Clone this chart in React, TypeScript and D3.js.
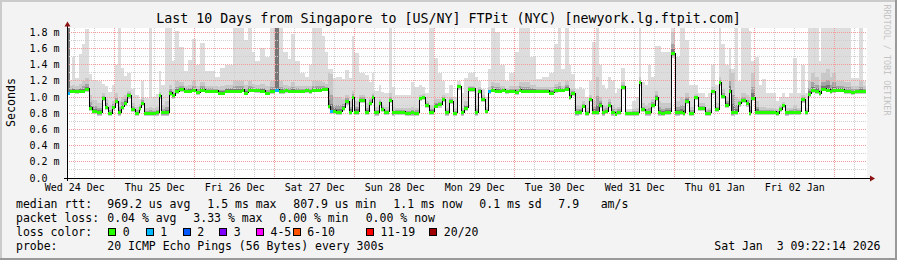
import React from "react";
import * as d3 from "d3";

// ---------- data ----------
const START = new Date(2025, 11, 24, 9, 40);
const SPAN_HOURS = 240;
const DATA_END_HOUR = 239.7;

// start of each consolidated step, hours after START
const segHour = [
  0, 0.9, 1.5, 2.4, 3.6, 4.5, 5.4, 6.6, 7.5, 9,
  10.5, 11.4, 12.3, 13.5, 14.4, 15.3, 16.2, 17.1, 18, 19.2,
  20.4, 21.6, 22.2, 23.1, 24.6, 25.5, 26.7, 27.6, 28.2, 29.4,
  30.6, 31.5, 32.4, 33.6, 35.1, 36.3, 37.5, 38.7, 39.9, 41.4,
  44.4, 45.3, 45.9, 47.4, 49.8, 52.5, 53.1, 54.3, 55.5, 56.4,
  57.9, 59.4, 60.9, 62.4, 63.6, 64.8, 65.4, 66.3, 67.2, 68.4,
  69.9, 71.4, 72.6, 73.5, 75, 76.5, 77.4, 78.3, 78.9, 79.8,
  80.7, 82.5, 83.4, 84.6, 85.5, 86.1, 87.6, 89.4, 90.6, 91.5,
  92.1, 93.6, 94.2, 95.1, 96.6, 97.5, 98.4, 101.4, 103.2, 104.1,
  105.6, 106.5, 107.4, 108.6, 110.1, 111.3, 112.5, 113.4, 114.6, 115.8,
  117, 118.2, 119.1, 120.3, 122.4, 123.3, 124.2, 125.4, 126.3, 127.2,
  128.4, 129.9, 130.5, 131.4, 132.6, 134.4, 135.6, 136.2, 138.9, 140.7,
  142.5, 144.6, 146.1, 147.3, 148.2, 149.4, 150.6, 151.2, 152.4, 153.6,
  154.5, 155.4, 156.6, 157.5, 158.7, 159.6, 160.5, 161.4, 162.3, 163.2,
  164.4, 165, 166.2, 167.4, 169.5, 170.7, 171.6, 172.2, 173.4, 174.3,
  175.2, 176.4, 177.3, 178.2, 179.4, 181.2, 182.4, 183.9, 184.8, 185.4,
  186.6, 188.1, 189.3, 191.4, 192.3, 193.2, 194.4, 195.6, 196.2, 197.4,
  198.6, 199.2, 200.4, 201.3, 202.2, 203.7, 204.6, 205.2, 206.4, 207.6,
  208.5, 209.7, 212.7, 213.6, 214.5, 215.4, 216.6, 217.8, 219, 220.2,
  221.4, 222.3, 223.2, 224.4, 225.6, 226.2, 227.7, 228.9, 229.5, 230.7,
  233.1, 235.2, 236.4, 237.6, 238.8,
];

// median rtt (ms)
const median = [
  1.05, 1.08, 1.08, 1.07, 1.08, 1.08, 1.10, 0.87, 0.825, 0.81,
  0.99, 0.876, 0.80, 0.876, 0.945, 0.81, 0.88, 0.93, 1.02, 0.847,
  0.806, 0.87, 0.925, 0.806, 0.806, 0.806, 0.81, 1.02, 0.81, 0.81,
  1.05, 1.02, 1.07, 1.10, 1.08, 1.08, 1.09, 1.06, 1.09, 1.08,
  1.08, 1.055, 1.055, 1.08, 1.08, 1.09, 1.05, 1.09, 1.09, 1.085,
  1.08, 1.05, 1.07, 1.09, 1.07, 1.07, 1.085, 1.08, 1.08, 1.08,
  1.08, 1.085, 1.07, 1.09, 1.09, 1.10, 1.10, 0.885, 0.826, 0.83,
  0.82, 0.87, 0.945, 0.82, 1.0, 0.82, 0.966, 0.82, 0.93, 1.0,
  0.81, 0.93, 0.85, 0.815, 0.96, 0.81, 0.815, 0.80, 0.81, 0.806,
  0.985, 1.0, 0.9, 0.82, 0.895, 0.91, 0.975, 0.81, 0.95, 0.806,
  1.13, 0.81, 0.87, 1.10, 0.81, 1.08, 0.975, 0.83, 1.07, 1.09,
  1.08, 1.08, 1.09, 1.07, 1.08, 1.065, 1.09, 1.08, 1.08, 1.08,
  1.08, 1.055, 1.085, 1.09, 1.09, 1.10, 1.0, 1.045, 0.81, 0.82,
  0.895, 0.806, 0.975, 0.82, 0.82, 0.9, 0.81, 0.825, 0.9, 0.81,
  0.795, 0.82, 1.127, 0.806, 0.806, 0.806, 1.185, 0.85, 0.81, 0.81,
  0.9, 0.99, 0.81, 0.806, 0.82, 1.54, 0.81, 0.82, 0.806, 0.95,
  0.806, 1.0, 0.87, 0.80, 0.806, 1.07, 0.85, 1.18, 1.01, 0.9,
  1.08, 0.81, 0.82, 0.92, 0.96, 0.92, 0.806, 0.99, 0.82, 0.815,
  0.815, 0.815, 0.80, 0.85, 0.9, 0.81, 0.815, 0.815, 0.815, 0.97,
  0.815, 1.04, 1.085, 1.07, 1.045, 1.10, 1.09, 1.07, 1.085, 1.09,
  1.07, 1.06, 1.075, 1.07, 1.07,
];

// slowest ping of each step (ms)
const hi = [
  3.0, 1.21, 1.50, 1.23, 1.53, 1.66, 1.84, 1.28, 1.21, 1.20,
  1.16, 1.14, 1.06, 1.15, 1.39, 1.89, 1.36, 1.26, 1.30, 1.10,
  1.03, 0.98, 1.20, 0.99, 1.89, 1.0, 1.04, 1.32, 1.15, 1.89,
  1.89, 1.45, 1.82, 1.62, 1.32, 1.46, 1.72, 1.40, 1.67, 1.32,
  1.25, 1.25, 1.36, 1.39, 1.89, 1.89, 1.70, 1.89, 1.55, 1.45,
  1.60, 1.50, 1.89, 3.0, 1.89, 1.56, 1.56, 1.47, 1.78, 1.45,
  1.30, 1.25, 1.40, 1.89, 1.89, 1.75, 1.55, 1.35, 1.35, 1.23,
  1.25, 1.22, 1.33, 1.24, 1.75, 1.54, 1.30, 1.27, 1.18, 1.30,
  1.07, 1.15, 1.06, 1.05, 1.89, 1.12, 1.03, 1.03, 1.18, 1.12,
  1.15, 1.12, 1.05, 1.89, 1.48, 1.30, 1.20, 1.05, 1.15, 1.0,
  1.20, 1.05, 1.23, 1.30, 1.25, 1.20, 1.10, 1.0, 1.34, 1.89,
  1.80, 1.40, 1.40, 1.20, 1.30, 1.55, 1.89, 1.89, 1.50, 1.22,
  1.25, 1.30, 1.65, 1.89, 1.35, 1.89, 1.40, 1.28, 1.10, 1.12,
  1.10, 1.0, 1.20, 1.68, 1.89, 1.40, 1.15, 1.10, 1.25, 1.20,
  1.05, 1.10, 1.36, 0.85, 0.95, 1.0, 1.85, 1.18, 1.15, 1.40,
  1.25, 1.63, 1.63, 1.55, 1.55, 1.89, 1.50, 1.89, 1.89, 1.70,
  1.15, 1.15, 1.05, 1.0, 1.05, 1.40, 1.15, 1.89, 1.65, 1.40,
  1.60, 1.35, 1.89, 1.20, 1.89, 1.85, 1.81, 1.45, 1.50, 1.15,
  1.22, 1.05, 0.95, 1.0, 1.05, 1.0, 1.05, 1.48, 1.05, 1.40,
  1.05, 1.89, 1.89, 1.89, 1.45, 1.89, 1.89, 1.89, 1.89, 1.89,
  1.89, 1.23, 1.23, 1.89, 1.20,
];

// upper bulk of the pings (ms)
const p90 = [
  10, 1.13, 1.15, 1.13, 1.16, 1.2, 1.24, 1.02, 0.96, 0.93,
  1.05, 0.98, 0.9, 0.95, 1.05, 0.95, 1.0, 1.02, 1.08, 0.93,
  0.88, 0.91, 1.0, 0.86, 0.88, 0.86, 0.88, 1.06, 0.9, 0.95,
  1.15, 1.1, 1.2, 1.18, 1.14, 1.15, 1.2, 1.14, 1.18, 1.14,
  1.13, 1.12, 1.13, 1.15, 1.2, 1.2, 1.15, 1.2, 1.16, 1.15,
  1.16, 1.13, 1.2, 10, 1.2, 1.15, 1.15, 1.14, 1.18, 1.14,
  1.13, 1.13, 1.13, 1.2, 1.2, 1.18, 1.16, 1.3, 1.28, 1.0,
  1.0, 0.97, 1.03, 0.95, 1.08, 0.95, 1.03, 0.93, 0.99, 1.05,
  0.88, 0.98, 0.9, 0.88, 1.05, 0.88, 0.87, 0.86, 0.88, 0.87,
  1.03, 1.04, 0.95, 0.9, 0.97, 0.97, 1.02, 0.87, 1.0, 0.86,
  1.16, 0.87, 0.95, 1.14, 0.9, 1.12, 1.02, 0.88, 1.12, 1.18,
  1.17, 1.14, 1.14, 1.11, 1.13, 1.14, 1.18, 1.18, 1.15, 1.12,
  1.12, 1.12, 1.16, 1.18, 1.14, 1.2, 1.1, 1.1, 0.9, 0.9,
  0.95, 0.86, 1.03, 0.95, 1.25, 1.0, 0.9, 0.9, 0.98, 0.9,
  0.86, 0.88, 1.18, 0.83, 0.85, 0.86, 1.25, 0.92, 0.9, 0.92,
  0.98, 1.08, 0.95, 0.92, 0.92, 1.8, 0.95, 1.0, 0.98, 1.05,
  0.88, 1.04, 0.92, 0.85, 0.87, 1.12, 0.92, 1.25, 1.1, 1.0,
  1.35, 1.3, 1.0, 0.98, 1.05, 1.02, 1.0, 1.3, 0.95, 0.88,
  0.88, 0.87, 0.85, 0.9, 0.94, 0.86, 0.87, 0.9, 0.87, 1.03,
  0.87, 1.2, 1.3, 1.25, 1.15, 1.3, 1.35, 1.25, 1.3, 1.2,
  1.18, 1.14, 1.14, 1.2, 1.13,
];

// fastest ping of each step (ms)
const lo = [
  1.02, 1.05, 1.05, 1.04, 1.05, 1.05, 1.06, 0.83, 0.79, 0.77,
  0.95, 0.84, 0.77, 0.84, 0.91, 0.77, 0.84, 0.89, 0.98, 0.81,
  0.77, 0.83, 0.89, 0.77, 0.77, 0.77, 0.77, 0.98, 0.77, 0.77,
  1.01, 0.98, 1.04, 1.06, 1.05, 1.05, 1.06, 1.03, 1.06, 1.05,
  1.05, 1.02, 1.02, 1.05, 1.05, 1.06, 1.02, 1.06, 1.06, 1.05,
  1.05, 1.02, 1.04, 1.06, 1.04, 1.04, 1.05, 1.05, 1.05, 1.05,
  1.05, 1.05, 1.04, 1.06, 1.06, 1.07, 1.07, 0.85, 0.79, 0.79,
  0.78, 0.83, 0.9, 0.78, 0.96, 0.78, 0.93, 0.78, 0.89, 0.96,
  0.77, 0.89, 0.81, 0.78, 0.92, 0.77, 0.78, 0.77, 0.77, 0.77,
  0.95, 0.96, 0.86, 0.78, 0.86, 0.87, 0.94, 0.77, 0.91, 0.77,
  1.09, 0.77, 0.83, 1.06, 0.77, 1.04, 0.94, 0.79, 1.04, 1.06,
  1.05, 1.05, 1.06, 1.04, 1.05, 1.03, 1.06, 1.05, 1.05, 1.05,
  1.05, 1.02, 1.05, 1.06, 1.06, 1.07, 0.96, 1.01, 0.77, 0.78,
  0.86, 0.77, 0.94, 0.78, 0.78, 0.86, 0.77, 0.79, 0.86, 0.77,
  0.76, 0.78, 1.09, 0.77, 0.77, 0.77, 1.14, 0.81, 0.77, 0.77,
  0.86, 0.95, 0.77, 0.77, 0.78, 1.48, 0.77, 0.78, 0.77, 0.91,
  0.77, 0.96, 0.83, 0.76, 0.77, 1.03, 0.81, 1.13, 0.97, 0.86,
  1.04, 0.77, 0.78, 0.88, 0.92, 0.88, 0.77, 0.95, 0.78, 0.78,
  0.78, 0.78, 0.76, 0.81, 0.86, 0.77, 0.78, 0.78, 0.78, 0.93,
  0.78, 1.0, 1.05, 1.04, 1.01, 1.07, 1.06, 1.04, 1.05, 1.06,
  1.04, 1.03, 1.04, 1.04, 1.04,
];

// steps that lost packets: start hour and lost count
const lossHour = [0, 62.4, 78.9, 126.3];
const lossCount = [1, 1, 1, 1];

const yTicks = [0, 0.2, 0.4, 0.6, 0.8, 1.0, 1.2, 1.4, 1.6, 1.8];
const yMinor = [0.1, 0.3, 0.5, 0.7, 0.9, 1.1, 1.3, 1.5, 1.7];

const lossLabels = ["0", "1", "2", "3", "4-5", "6-10", "11-19", "20/20"];
const lossColors = ["#26ff00", "#00b8ff", "#0059ff", "#7e00ff", "#ff00ff", "#ff5500", "#ff0000", "#a10000"];

const titleText = "Last 10 Days from Singapore to [US/NY] FTPit (NYC) [newyork.lg.ftpit.com]";
const rttStats = ["969.2 us avg", "1.5 ms max", "807.9 us min", "1.1 ms now", "0.1 ms sd", "7.9", "am/s"];
const lossStats = ["0.04 % avg", "3.33 % max", "0.00 % min", "0.00 % now"];
const probeText = "20 ICMP Echo Pings (56 Bytes) every 300s";
const stampText = "Sat Jan  3 09:22:14 2026";

// ---------- layout ----------
const W = 897, H = 260;
const PL = 67, PR = 867, PT = 28, PB = 178;
const rttX = [107.3, 207.3, 293.3, 393.3, 479.3, 558.3, 600.7];
const lossX = [107.3, 193.3, 279.3, 365.7];
const boxX = [108.3, 145.7, 182.7, 219.3, 256, 292.7, 366, 429.3];
const MONO = "'DejaVu Sans Mono', monospace";

const hourMs = 3600 * 1000;
const at = (h: number) => new Date(START.getTime() + h * hourMs);

export default function App() {
  const xs = d3.scaleTime().domain([START, at(SPAN_HOURS)]).range([PL, PR]);
  const ys = d3.scaleLinear().domain([0, 150 / 81]).range([PB, PT]);

  const segs = segHour.map((h, i) => {
    const h1 = i + 1 < segHour.length ? segHour[i + 1] : DATA_END_HOUR;
    const li = lossHour.indexOf(h);
    const loss = li >= 0 ? lossCount[li] : 0;
    return {
      x0: xs(at(h)),
      x1: xs(at(h1)),
      med: median[i],
      hi: hi[i],
      p90: p90[i],
      lo: lo[i],
      loss,
    };
  });

  const colorFor = (loss: number) => {
    if (loss <= 3) return lossColors[loss];
    if (loss <= 5) return lossColors[4];
    if (loss <= 10) return lossColors[5];
    if (loss <= 19) return lossColors[6];
    return lossColors[7];
  };

  const bandDefs = [
    { fill: "#dddddd", a: (s: any) => s.lo, b: (s: any) => s.hi },
    { fill: "#c8c8c8", a: (s: any) => s.lo, b: (s: any) => s.p90 },
    { fill: "#a4a4a4", a: (s: any) => s.med - (s.med - s.lo) * 0.66, b: (s: any) => s.med + (s.p90 - s.med) * 0.45 },
    { fill: "#777777", a: (s: any) => s.med - (s.med - s.lo) * 0.33, b: (s: any) => s.med + (s.p90 - s.med) * 0.2 },
  ];

  const linePts: [number, number][] = segs.map((s) => [s.x0, ys(s.med)]);
  linePts.push([segs[segs.length - 1].x1, ys(segs[segs.length - 1].med)]);
  const stepLine = d3.line().curve(d3.curveStepAfter)(linePts) || "";

  const hours6 = d3.timeHour.every(6)!.range(START, at(SPAN_HOURS));
  const vMinor = hours6.filter((d) => d.getHours() !== 0);
  const vMajor = hours6.filter((d) => d.getHours() === 0);
  const noons = d3.timeDay
    .range(d3.timeDay.floor(START), at(SPAN_HOURS))
    .map((d) => d3.timeHour.offset(d, 12))
    .filter((d) => d >= START && d <= at(SPAN_HOURS));
  const fmtDay = d3.timeFormat("%a %d %b");

  const px = (v: number) => Math.floor(v) + 0.5;
  const L = [207.7, 221.8, 235.9, 250];

  return (
    <svg width={W} height={H} style={{ position: "absolute", left: 0, top: 0, display: "block" }}
      fontFamily={MONO}>
      <defs>
        <clipPath id="plotclip">
          <rect x={PL} y={PT} width={PR - PL} height={PB - PT} />
        </clipPath>
      </defs>
      <rect x={0} y={0} width={W} height={H} fill="#f3f3f3" />
      <rect x={0} y={0} width={W} height={2} fill="#cbcbcb" />
      <rect x={0} y={0} width={2} height={H} fill="#cbcbcb" />
      <rect x={0} y={H - 2} width={W} height={2} fill="#999999" />
      <rect x={W - 2} y={0} width={2} height={H} fill="#999999" />

      <rect x={PL} y={PT} width={PR - PL} height={PB - PT} fill="#ffffff" />

      <g clipPath="url(#plotclip)" shapeRendering="crispEdges">
        {bandDefs.map((b, bi) => (
          <g key={bi} fill={b.fill}>
            {segs.map((s, i) => {
              const yTop = ys(b.b(s));
              const yBot = ys(b.a(s));
              return <rect key={i} x={s.x0} y={yTop} width={s.x1 - s.x0} height={Math.max(0, yBot - yTop)} />;
            })}
          </g>
        ))}
      </g>

      {/* grid */}
      <g strokeWidth={1} strokeDasharray="1,1" shapeRendering="crispEdges">
        {yMinor.map((v) => (
          <line key={"hm" + v} x1={PL} x2={PR} y1={px(ys(v))} y2={px(ys(v))} stroke="#cfcfcf" />
        ))}
        {vMinor.map((d, i) => (
          <line key={"vm" + i} x1={px(xs(d))} x2={px(xs(d))} y1={PT} y2={PB} stroke="#cfcfcf" />
        ))}
        {yTicks.filter((v) => v > 0).map((v) => (
          <line key={"hM" + v} x1={PL} x2={PR} y1={px(ys(v))} y2={px(ys(v))} stroke="#f49a9a" />
        ))}
        {vMajor.map((d, i) => (
          <line key={"vM" + i} x1={px(xs(d))} x2={px(xs(d))} y1={PT} y2={PB} stroke="#f49a9a" />
        ))}
      </g>

      {/* median */}
      <g clipPath="url(#plotclip)">
        <path d={stepLine} fill="none" stroke="#000" strokeWidth={1} shapeRendering="crispEdges" />
        {segs.map((s, i) => (
          <rect key={i} x={s.x0} y={Math.round(ys(s.med)) - 1.5} width={s.x1 - s.x0} height={3}
            fill={colorFor(s.loss)} shapeRendering="crispEdges" />
        ))}
      </g>

      {/* axes */}
      <g shapeRendering="crispEdges">
        <line x1={PL - 3} x2={PR + 3} y1={PB + 0.5} y2={PB + 0.5} stroke="#000" />
        <line x1={PL + 0.5} x2={PL + 0.5} y1={PB + 3} y2={PT - 3} stroke="#000" />
      </g>
      <path d={`M${PL + 0.5},21.5 L${PL - 2.5},26.5 L${PL + 3.5},26.5 Z`} fill="#8b1010" />
      <path d={`M${PR + 8},${PB + 0.5} L${PR + 3},${PB - 2.5} L${PR + 3},${PB + 3.5} Z`} fill="#8b1010" />

      {/* y labels */}
      <g fontSize={10} fill="#000" textAnchor="end">
        {yTicks.map((v) => (
          <text key={v} x={v === 0 ? 47.5 : 59.5} y={ys(v) + 3.6}>
            {v === 0 ? "0.0" : `${v.toFixed(1)} m`}
          </text>
        ))}
      </g>
      {/* x labels */}
      <g fontSize={10} fill="#000" textAnchor="middle">
        {noons.map((d, i) => (
          <text key={i} x={xs(d)} y={190.5}>{fmtDay(d)}</text>
        ))}
      </g>

      <text x={W / 2} y={23.3} fontSize={13.3} textAnchor="middle" fill="#000">{titleText}</text>
      <text transform="translate(14.5,102.5) rotate(-90)" fontSize={11.6} textAnchor="middle" fill="#000">Seconds</text>
      <text transform="translate(884,60) rotate(90)" fontSize={8.4} textAnchor="middle" fill="#c4c4c4">RRDTOOL / TOBI OETIKER</text>

      {/* legend */}
      <g fontSize={11.5} fill="#000">
        <text x={16} y={L[0]}>median rtt:</text>
        {rttStats.map((t, i) => (
          <text key={"r" + i} x={rttX[i]} y={L[0]}>{t}</text>
        ))}
        <text x={16} y={L[1]}>packet loss:</text>
        {lossStats.map((t, i) => (
          <text key={"l" + i} x={lossX[i]} y={L[1]}>{t}</text>
        ))}
        <text x={16} y={L[2]}>loss color:</text>
        {lossLabels.map((t, i) => (
          <g key={"c" + i}>
            <rect x={Math.round(boxX[i]) + 0.5} y={228.5} width={7} height={7} fill={lossColors[i]} stroke="#000" strokeWidth={1} />
            <text x={boxX[i] + 14.5} y={L[2]}>{t}</text>
          </g>
        ))}
        <text x={16} y={L[3]}>probe:</text>
        <text x={107.3} y={L[3]}>{probeText}</text>
        <text x={880.5} y={L[3]} textAnchor="end" xmlSpace="preserve">{stampText}</text>
      </g>
    </svg>
  );
}
